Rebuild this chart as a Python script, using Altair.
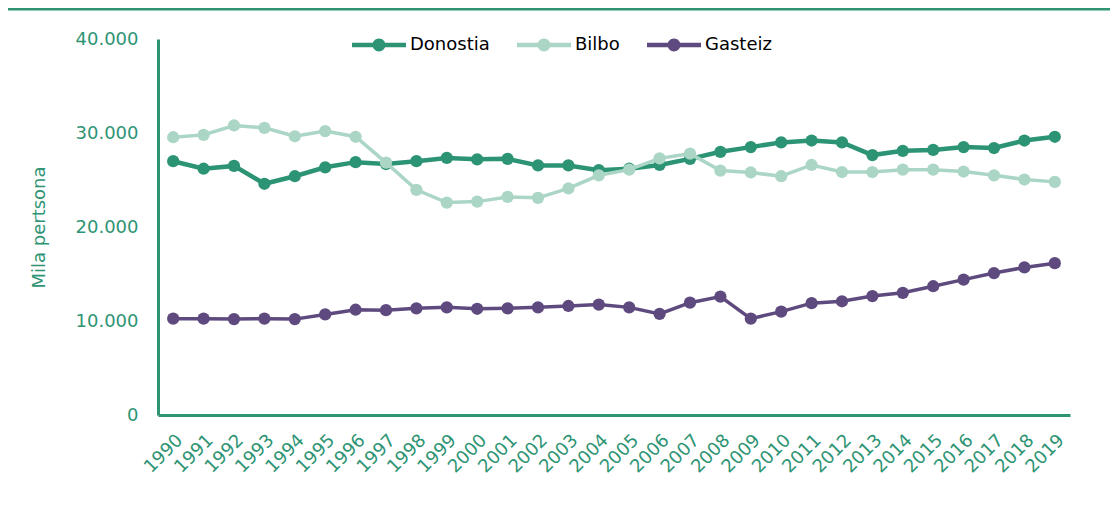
import altair as alt
import pandas as pd

years = [str(y) for y in range(1990, 2020)]
donostia = [27000, 26200, 26500, 24600, 25400, 26350, 26900, 26700, 27000, 27350,
            27200, 27250, 26550, 26550, 26050, 26200, 26600, 27250, 28000, 28500,
            29000, 29200, 29000, 27650, 28100, 28200, 28500, 28400, 29200, 29600]
bilbo = [29550, 29800, 30800, 30550, 29650, 30200, 29600, 26850, 23950, 22600,
         22700, 23200, 23100, 24100, 25500, 26100, 27300, 27800, 26000, 25800,
         25400, 26600, 25850, 25850, 26100, 26100, 25900, 25500, 25050, 24800]
gasteiz = [10250, 10250, 10200, 10250, 10200, 10700, 11200, 11150, 11350, 11450,
           11300, 11350, 11450, 11600, 11750, 11450, 10750, 11950, 12600, 10250,
           11000, 11900, 12100, 12650, 13000, 13700, 14400, 15100, 15700, 16150]

series_names = ["Donostia", "Bilbo", "Gasteiz"]
series_colors = ["#2C9474", "#ABD6C5", "#5E4A7E"]
series_widths = [4.5, 3.5, 3.5]

rows = []
for name, vals in zip(series_names, [donostia, bilbo, gasteiz]):
    for y, v in zip(years, vals):
        rows.append({"Urtea": y, "Balioa": v, "Hiria": name})
df = pd.DataFrame(rows)

GREEN = "#2E9474"
FONT = "DejaVu Sans"

legend_symbol = ("M-1,-0.08 L-0.2,-0.08 L-0.2,0.08 L-1,0.08 Z "
                 "M0.2,-0.08 L1,-0.08 L1,0.08 L0.2,0.08 Z "
                 "M-0.24,0 A0.24,0.24 0 1,1 0.24,0 A0.24,0.24 0 1,1 -0.24,0 Z")

x_enc = alt.X("Urtea:O", sort=years,
              scale=alt.Scale(type="point", padding=0.5),
              axis=alt.Axis(title=None, labelAngle=-45, labelColor=GREEN,
                            labelFont=FONT, labelFontSize=18, domainColor=GREEN,
                            domainWidth=3, ticks=False, tickSize=0, labelPadding=16,
                            grid=False))
y_enc = alt.Y("Balioa:Q",
              scale=alt.Scale(domain=[0, 40000], nice=False),
              axis=alt.Axis(title="Mila pertsona", values=[0, 10000, 20000, 30000, 40000],
                            labelExpr="replace(format(datum.value, ','), ',', '.')",
                            labelColor=GREEN, labelFont=FONT, labelFontSize=18,
                            titleColor=GREEN, titleFont=FONT, titleFontSize=18,
                            titleFontWeight="normal", titlePadding=27,
                            domainColor=GREEN, domainWidth=3, ticks=False, tickSize=0,
                            labelPadding=20, grid=False))
color_scale = alt.Scale(domain=series_names, range=series_colors)

layers = []
for name, col, w in zip(series_names, series_colors, series_widths):
    sub = df[df["Hiria"] == name]
    line = alt.Chart(sub).mark_line(strokeWidth=w, color=col).encode(x=x_enc, y=y_enc)
    pts = alt.Chart(sub).mark_point(filled=True, size=150, opacity=1).encode(
        x=x_enc, y=y_enc,
        color=alt.Color("Hiria:N", scale=color_scale, sort=series_names,
                        legend=alt.Legend(title=None, orient="none", direction="horizontal",
                                          legendX=194, legendY=-21,
                                          symbolType=legend_symbol, symbolSize=2916,
                                          symbolStrokeWidth=0, symbolOpacity=1,
                                          labelFont=FONT,
                                          labelFontSize=18, labelColor="#000000",
                                          labelOffset=4, columnPadding=27)))
    layers += [line, pts]

top_rule = alt.Chart(pd.DataFrame({"a": [0]})).mark_rule(color=GREEN, strokeWidth=3).encode(
    x=alt.value(-155), x2=alt.value(957), y=alt.value(-30))

chart = alt.layer(top_rule, *layers).properties(
    width=912, height=376,
    autosize=alt.AutoSizeParams(type="none"),
    padding={"left": 150, "top": 31, "right": 40, "bottom": 80},
).configure_view(stroke=None).resolve_scale(color="shared")

chart.save("out.html", embed_options={"renderer": "svg", "actions": False})
